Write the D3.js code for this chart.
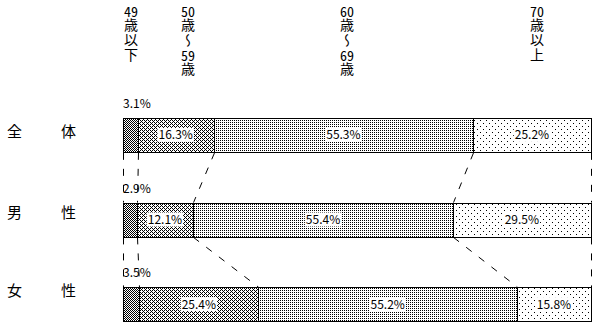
<!DOCTYPE html>
<html><head><meta charset="utf-8">
<script src="https://cdn.jsdelivr.net/npm/d3@7"></script>
<style>
html,body{margin:0;padding:0;background:#fff;}
#chart{position:relative;width:599px;height:327px;}
svg{display:block;position:absolute;left:0;top:0;}
text{font-family:"Noto Sans CJK JP","DejaVu Sans",sans-serif;fill:#000;}
.hdr{position:absolute;writing-mode:vertical-rl;font-family:"Noto Sans CJK JP",sans-serif;
  font-size:14px;line-height:14px;letter-spacing:1px;color:#000;white-space:nowrap;}
.hdr .tcy{text-combine-upright:all;}
</style></head><body>
<div id="chart"></div>
<script>
// ---- data ----
const rows = ["全体", "男性", "女性"];
const rowLabelChars = [["全","体"],["男","性"],["女","性"]];
const ageGroups = ["49歳以下", "50歳～59歳", "60歳～69歳", "70歳以上"];
const headerParts = [["49","歳以下"],["50","歳～"],["60","歳～"],["70","歳以上"]];
const headerParts2 = [null, ["59","歳"], ["69","歳"], null];
const v49 = [3.1, 2.9, 3.5];
const v50 = [16.3, 12.1, 25.4];
const v60 = [55.3, 55.4, 55.2];
const v70 = [25.2, 29.5, 15.8];

// ---- layout ----
const W = 599, H = 327;
const root = d3.select("#chart");
const svg = root.append("svg").attr("width", W).attr("height", H);
const defs = svg.append("defs");

function pat(id, size, pts) {
  const p = defs.append("pattern").attr("id", id).attr("patternUnits", "userSpaceOnUse")
    .attr("width", size[0]).attr("height", size[1]);
  p.append("rect").attr("width", size[0]).attr("height", size[1]).attr("fill", "#fff");
  pts.forEach(([x, y]) => p.append("rect").attr("x", x).attr("y", y).attr("width", 1).attr("height", 1)
    .attr("fill", "#000").attr("shape-rendering", "crispEdges"));
}
pat("p0", [2, 2], [[0,0],[1,1]]);
pat("p1", [4, 4], [[0,0],[2,0],[1,1],[0,2],[2,2],[3,3]]);
pat("p2", [2, 2], [[0,0]]);
pat("p3", [6, 6], [[0,0],[3,3]]);
const fills = ["url(#p0)", "url(#p1)", "url(#p2)", "url(#p3)"];

const x = d3.scaleLinear().domain([0, 100]).range([123, 591]);
const y = d3.scaleBand().domain(rows).range([118, 321]).paddingInner(0.6);

const data = rows.map((r, i) => {
  const vals = [v49[i], v50[i], v60[i], v70[i]];
  const tot = d3.sum(vals);
  let c = 0;
  const segs = vals.map((v, k) => {
    const s = { row: r, k, v, x0: c / tot * 100, x1: (c + v) / tot * 100 };
    c += v; return s;
  });
  return { row: r, i, segs };
});

// connectors (dashed)
const conn = svg.append("g").attr("stroke", "#000").attr("stroke-width", 1)
  .attr("stroke-dasharray", "7,9").attr("fill", "none");
for (let i = 0; i < rows.length - 1; i++) {
  const a = data[i], b = data[i + 1];
  const yA = y(a.row) + y.bandwidth(), yB = y(b.row);
  const bounds = [[0, 0]].concat(a.segs.map((s, k) => [s.x1, b.segs[k].x1]));
  bounds.forEach(([pa, pb]) => {
    conn.append("line").attr("x1", Math.round(x(pa)) + 0.5).attr("y1", yA + 1)
      .attr("x2", Math.round(x(pb)) + 0.5).attr("y2", yB);
  });
}

// bars
const gBars = svg.append("g");
data.forEach(d => {
  gBars.selectAll(null).data(d.segs).enter().append("rect")
    .attr("x", s => Math.round(x(s.x0)) + 0.5)
    .attr("y", Math.round(y(d.row)) + 0.5)
    .attr("width", s => Math.round(x(s.x1)) - Math.round(x(s.x0)))
    .attr("height", Math.round(y.bandwidth()))
    .attr("fill", s => fills[s.k])
    .attr("stroke", "#000").attr("stroke-width", 1);
});

// value labels
const fmt = v => v.toFixed(1) + "%";
data.forEach(d => {
  const yc = y(d.row) + y.bandwidth() / 2;
  d.segs.forEach(s => {
    if (s.k === 0) {
      svg.append("text").attr("x", x(0)).attr("y", y(d.row) - 10)
        .attr("font-size", 12).text(fmt(s.v));
    } else {
      const cx = (x(s.x0) + x(s.x1)) / 2;
      const t = svg.append("text").attr("x", cx).attr("y", yc + 4.5)
        .attr("text-anchor", "middle").attr("font-size", 12).text(fmt(s.v));
      const bb = t.node().getBBox();
      svg.insert("rect", () => t.node()).attr("x", bb.x - 1).attr("y", yc - 7)
        .attr("width", bb.width + 2).attr("height", 14).attr("fill", "#fff");
    }
  });
});

// row labels
const rowLabelY = [137, 218, 296];
rowLabelChars.forEach((chs, i) => {
  svg.append("text").attr("x", 7).attr("y", rowLabelY[i]).attr("font-size", 15).text(chs[0]);
  svg.append("text").attr("x", 61).attr("y", rowLabelY[i]).attr("font-size", 15).text(chs[1]);
});

// header labels (vertical writing mode, one block each)
const headerX = [131, 188, 347, 537];
headerParts.forEach((parts, j) => {
  const dv = root.append("div").attr("class", "hdr")
    .style("left", (headerX[j] - 7) + "px").style("top", "4px");
  dv.append("span").attr("class", "tcy").text(parts[0]);
  dv.append("span").text(parts[1]);
  const p2 = headerParts2[j];
  if (p2) {
    dv.append("span").attr("class", "tcy").text(p2[0]);
    dv.append("span").text(p2[1]);
  }
});
</script>
</body></html>
